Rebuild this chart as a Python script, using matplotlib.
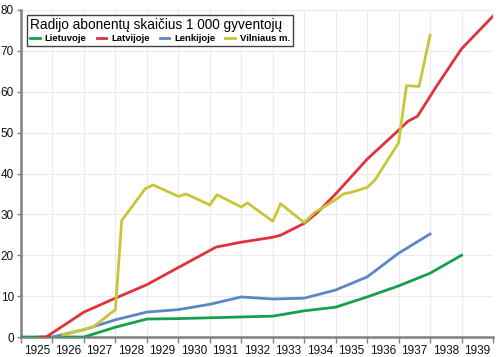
import matplotlib
matplotlib.use("Agg")
import matplotlib.pyplot as plt
from matplotlib.ticker import FixedLocator, NullFormatter, FixedFormatter

# ---- data ----
years = list(range(1925, 1940))
year_labels = [str(y) for y in years]

lt_x = [1925, 1927, 1928, 1929, 1930, 1931, 1932, 1933, 1934, 1935, 1936, 1937, 1938, 1939]
lt_y = [0, 0, 2.4, 4.4, 4.5, 4.7, 4.9, 5.1, 6.4, 7.3, 9.8, 12.5, 15.6, 20.0]

lv_x = [1925.6, 1925.8, 1927, 1928, 1929, 1930, 1931.2, 1932, 1933, 1933.25, 1934, 1934.4,
        1935, 1936, 1937, 1937.3, 1937.6, 1938.2, 1939, 1940]
lv_y = [0, 0, 6.1, 9.5, 12.8, 17.0, 22.0, 23.2, 24.4, 24.9, 27.8, 30.3,
        35.0, 43.5, 50.6, 52.8, 54.0, 61.3, 70.5, 78.5]

pl_x = [1926, 1927, 1928, 1929, 1930, 1931, 1932, 1933, 1934, 1935, 1936, 1937, 1938]
pl_y = [0, 1.8, 4.2, 6.1, 6.7, 8.0, 9.8, 9.3, 9.5, 11.5, 14.7, 20.5, 25.2]

vi_x = [1926.33, 1927.0, 1927.3, 1928.0, 1928.2, 1928.95, 1929.2, 1930.0, 1930.25, 1931.0,
        1931.23, 1932.0, 1932.2, 1933.0, 1933.25, 1934.0, 1934.33, 1934.6, 1935.0, 1935.25,
        1935.5, 1936.0, 1936.25, 1936.65, 1937.0, 1937.25, 1937.65, 1938.0]
vi_y = [0.5, 1.8, 2.5, 6.7, 28.5, 36.3, 37.2, 34.4, 35.0, 32.3,
        34.8, 31.8, 32.8, 28.3, 32.6, 28.0, 30.5, 31.7, 33.6, 35.0,
        35.4, 36.6, 38.4, 43.3, 47.5, 61.5, 61.3, 73.8]

series_names = ["Lietuvoje", "Latvijoje", "Lenkijoje", "Vilniaus m."]
title = "Radijo abonentų skaičius 1 000 gyventojų"

colors = ["#17a04c", "#e0323c", "#5b87c5", "#c8c638"]

plt.rcParams['font.family'] = ['Liberation Sans', 'DejaVu Sans']

fig = plt.figure(figsize=(4.97, 3.57), dpi=100)
ax = fig.add_axes([21/497, 20/357, 472/497, 327/357])

for xs, ys, c, n in zip([lt_x, lv_x, pl_x, vi_x], [lt_y, lv_y, pl_y, vi_y], colors, series_names):
    ax.plot(xs, ys, color=c, lw=2.0, label=n, solid_joinstyle='round', zorder=3)

ax.set_xlim(1925, 1940)
ax.set_ylim(0, 80)
ax.xaxis.set_major_locator(FixedLocator(list(range(1925, 1941))))
ax.xaxis.set_major_formatter(NullFormatter())
ax.xaxis.set_minor_locator(FixedLocator([y + 0.5 for y in years]))
ax.xaxis.set_minor_formatter(FixedFormatter(year_labels))
ax.tick_params(axis='x', which='minor', length=0, labelsize=8.5, pad=6, colors='#111111')
ax.tick_params(axis='x', which='major', length=4, color='#808080', width=1)
ax.set_yticks(range(0, 81, 10))
ax.tick_params(axis='y', length=3, color='#808080', width=1, labelsize=8.5, pad=2, labelcolor='#111111')

ax.grid(True, which='major', color='#ebebeb', lw=0.8, zorder=0)
for s in ['top', 'right']:
    ax.spines[s].set_visible(False)
for s in ['left', 'bottom']:
    ax.spines[s].set_color('#808080')
    ax.spines[s].set_linewidth(1.8)

leg = ax.legend(loc='upper left', bbox_to_anchor=(0.003, 1.0), ncol=4, title=title,
                title_fontsize=9.8, prop={'weight': 'bold', 'size': 6.8},
                handlelength=1.0, handletextpad=0.5, columnspacing=1.1,
                frameon=True, fancybox=False, borderpad=0.35, labelspacing=0.2)
leg.get_frame().set_edgecolor('#111111')
leg.get_frame().set_linewidth(1.0)
leg._legend_box.align = 'left'
leg.set_zorder(5)

fig.savefig("out.png", dpi=100)
